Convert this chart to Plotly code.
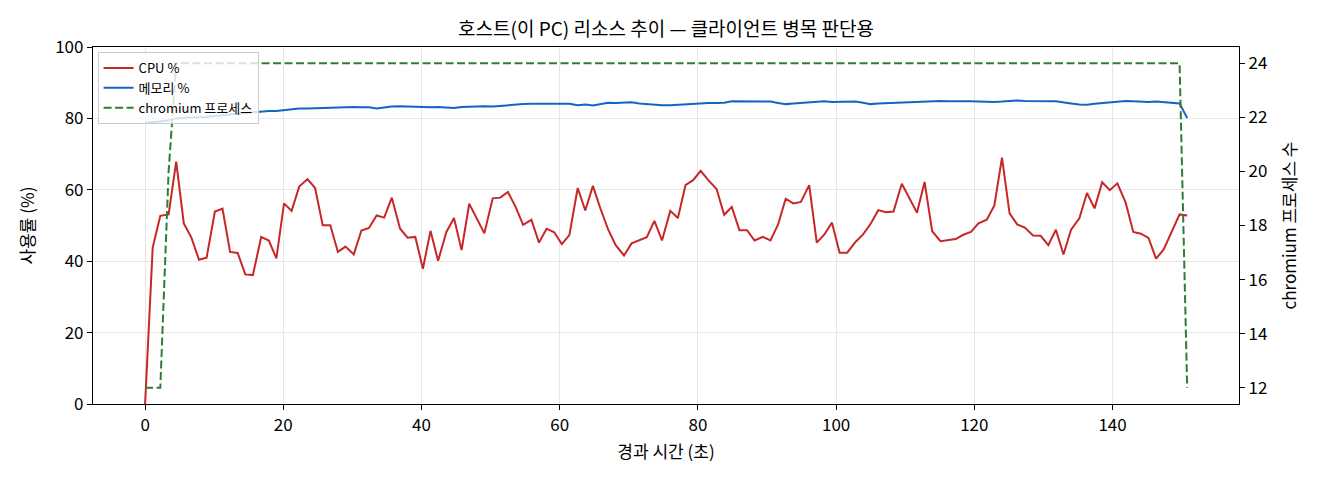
import plotly.graph_objects as go

# elapsed seconds for each sample
elapsed_s = [
    0.0, 1.1, 2.2, 3.4, 4.5, 5.6, 6.7, 7.8, 8.9, 10.1,
    11.2, 12.3, 13.4, 14.5, 15.6, 16.8, 17.9, 19.0, 20.1, 21.2,
    22.3, 23.5, 24.6, 25.7, 26.8, 27.9, 29.0, 30.2, 31.3, 32.4,
    33.5, 34.6, 35.7, 36.9, 38.0, 39.1, 40.2, 41.3, 42.4, 43.6,
    44.7, 45.8, 46.9, 48.0, 49.1, 50.3, 51.4, 52.5, 53.6, 54.7,
    55.9, 57.0, 58.1, 59.2, 60.3, 61.4, 62.6, 63.7, 64.8, 65.9,
    67.0, 68.1, 69.3, 70.4, 71.5, 72.6, 73.7, 74.8, 76.0, 77.1,
    78.2, 79.3, 80.4, 81.5, 82.7, 83.8, 84.9, 86.0, 87.1, 88.2,
    89.4, 90.5, 91.6, 92.7, 93.8, 94.9, 96.1, 97.2, 98.3, 99.4,
    100.5, 101.6, 102.8, 103.9, 105.0, 106.1, 107.2, 108.3, 109.5, 110.6,
    111.7, 112.8, 113.9, 115.1, 116.2, 117.3, 118.4, 119.5, 120.6, 121.8,
    122.9, 124.0, 125.1, 126.2, 127.3, 128.5, 129.6, 130.7, 131.8, 132.9,
    134.0, 135.2, 136.3, 137.4, 138.5, 139.6, 140.7, 141.9, 143.0, 144.1,
    145.2, 146.3, 147.4, 148.6, 149.7, 150.8,
]

cpu_pct = [
    0.0, 43.8, 52.7, 53.1, 67.9, 50.6, 46.6, 40.4, 41.0, 53.9,
    54.7, 42.6, 42.3, 36.3, 36.1, 46.8, 45.8, 40.8, 56.2, 54.1,
    60.9, 63.0, 60.5, 50.1, 50.1, 42.6, 44.1, 41.9, 48.6, 49.3,
    52.8, 52.2, 57.8, 49.1, 46.6, 46.8, 37.9, 48.5, 40.1, 48.2,
    52.1, 43.1, 56.1, 52.0, 47.8, 57.6, 57.8, 59.4, 55.3, 50.2,
    51.6, 45.2, 49.1, 48.1, 44.8, 47.3, 60.5, 54.2, 61.1, 54.7,
    48.9, 44.5, 41.6, 45.0, 45.8, 46.7, 51.3, 45.8, 54.1, 52.1,
    61.3, 62.7, 65.3, 62.7, 60.2, 53.0, 55.2, 48.7, 48.7, 45.8,
    46.8, 45.8, 50.3, 57.5, 56.2, 56.6, 61.3, 45.2, 47.5, 50.8,
    42.4, 42.4, 45.4, 47.5, 50.5, 54.3, 53.7, 53.9, 61.7, 57.8,
    53.6, 62.2, 48.4, 45.6, 45.8, 46.2, 47.4, 48.2, 50.6, 51.6,
    55.6, 69.0, 53.4, 50.3, 49.4, 47.2, 47.1, 44.5, 48.8, 41.9,
    48.8, 52.0, 59.1, 54.8, 62.1, 59.9, 61.8, 56.4, 48.2, 47.7,
    46.5, 40.7, 43.3, 48.3, 53.1, 52.8,
]

mem_pct = [
    78.8, 78.9, 79.1, 79.5, 80.0, 80.2, 80.2, 80.2, 80.4, 80.7,
    80.9, 81.0, 81.2, 81.5, 81.8, 82.0, 82.1, 82.1, 82.3, 82.7,
    82.8, 82.8, 82.9, 83.0, 83.1, 83.2, 83.2, 83.2, 83.1, 83.1,
    82.8, 83.1, 83.3, 83.4, 83.3, 83.1, 83.0, 83.1, 83.2, 83.0,
    82.9, 83.2, 83.3, 83.3, 83.4, 83.3, 83.5, 83.7, 83.9, 84.0,
    84.1, 84.1, 84.2, 84.2, 84.2, 84.1, 83.7, 83.9, 83.6, 84.0,
    84.4, 84.3, 84.4, 84.5, 84.2, 84.0, 83.9, 83.7, 83.7, 83.8,
    84.0, 84.2, 84.3, 84.3, 84.3, 84.4, 84.8, 84.8, 84.8, 84.9,
    84.8, 84.7, 84.3, 84.0, 84.2, 84.3, 84.4, 84.5, 84.8, 84.6,
    84.6, 84.7, 84.7, 84.4, 84.0, 84.2, 84.3, 84.2, 84.4, 84.6,
    84.6, 84.7, 84.8, 84.9, 84.8, 84.7, 84.8, 84.8, 84.7, 84.6,
    84.6, 84.7, 84.9, 85.0, 84.9, 84.8, 84.8, 84.8, 84.8, 84.6,
    84.2, 83.9, 83.8, 84.1, 84.3, 84.4, 84.7, 84.9, 84.8, 84.6,
    84.6, 84.7, 84.6, 84.3, 84.2, 80.1,
]

chromium_procs = [
    12, 12, 12, 20, 24, 24, 24, 24, 24, 24,
    24, 24, 24, 24, 24, 24, 24, 24, 24, 24,
    24, 24, 24, 24, 24, 24, 24, 24, 24, 24,
    24, 24, 24, 24, 24, 24, 24, 24, 24, 24,
    24, 24, 24, 24, 24, 24, 24, 24, 24, 24,
    24, 24, 24, 24, 24, 24, 24, 24, 24, 24,
    24, 24, 24, 24, 24, 24, 24, 24, 24, 24,
    24, 24, 24, 24, 24, 24, 24, 24, 24, 24,
    24, 24, 24, 24, 24, 24, 24, 24, 24, 24,
    24, 24, 24, 24, 24, 24, 24, 24, 24, 24,
    24, 24, 24, 24, 24, 24, 24, 24, 24, 24,
    24, 24, 24, 24, 24, 24, 24, 24, 24, 24,
    24, 24, 24, 24, 24, 24, 24, 24, 24, 24,
    24, 24, 24, 24, 24, 12,
]

FONT = "Noto Sans CJK KR"
RED, BLUE, GREEN = "#c62828", "#1565c0", "#2e7d32"
GRID = "#e6e6e6"

fig = go.Figure()
fig.add_trace(go.Scatter(x=elapsed_s, y=cpu_pct, mode="lines", name="CPU %",
                         line=dict(color=RED, width=2)))
fig.add_trace(go.Scatter(x=elapsed_s, y=mem_pct, mode="lines", name="메모리 %",
                         line=dict(color=BLUE, width=2)))
fig.add_trace(go.Scatter(x=elapsed_s, y=chromium_procs, mode="lines", name="chromium 프로세스",
                         line=dict(color=GREEN, width=2, dash="8px,3.5px"), yaxis="y2"))

axis_common = dict(showline=True, linecolor="black", linewidth=1.2, ticks="outside",
                   ticklen=5, tickcolor="black", tickfont=dict(size=17, color="black"),
                   zeroline=False, automargin=False)

fig.update_layout(
    width=1320, height=480,
    # the page body adds ~8px, so margins are trimmed to land the plot box where it should be
    margin=dict(l=85, r=89, t=39, b=84),
    paper_bgcolor="white", plot_bgcolor="white",
    font=dict(family=FONT, color="black"),
    title=dict(text="호스트(이 PC) 리소스 추이 — 클라이언트 병목 판단용",
               x=0.5, xref="paper", y=1 - 21 / 480, yanchor="middle",
               font=dict(size=19, color="black")),
    xaxis=dict(range=[-7.54, 158.3], tickvals=[0, 20, 40, 60, 80, 100, 120, 140],
               showgrid=True, gridcolor=GRID, mirror=True,
               title=dict(text="경과 시간 (초)", font=dict(size=17), standoff=11),
               **axis_common),
    yaxis=dict(range=[0, 100], tickvals=[0, 20, 40, 60, 80, 100],
               showgrid=True, gridcolor=GRID,
               title=dict(text="사용률 (%)", font=dict(size=17), standoff=16),
               **axis_common),
    yaxis2=dict(range=[11.4, 24.6], tickvals=[12, 14, 16, 18, 20, 22, 24],
                overlaying="y", side="right", showgrid=False,
                title=dict(text="chromium 프로세스 수", font=dict(size=17), standoff=17),
                **axis_common),
    legend=dict(x=0.004, y=0.986, xanchor="left", yanchor="top",
                bgcolor="rgba(255,255,255,0.8)", bordercolor="#cccccc", borderwidth=1,
                font=dict(size=13)),
    showlegend=True,
)

fig.write_html("out.html")
